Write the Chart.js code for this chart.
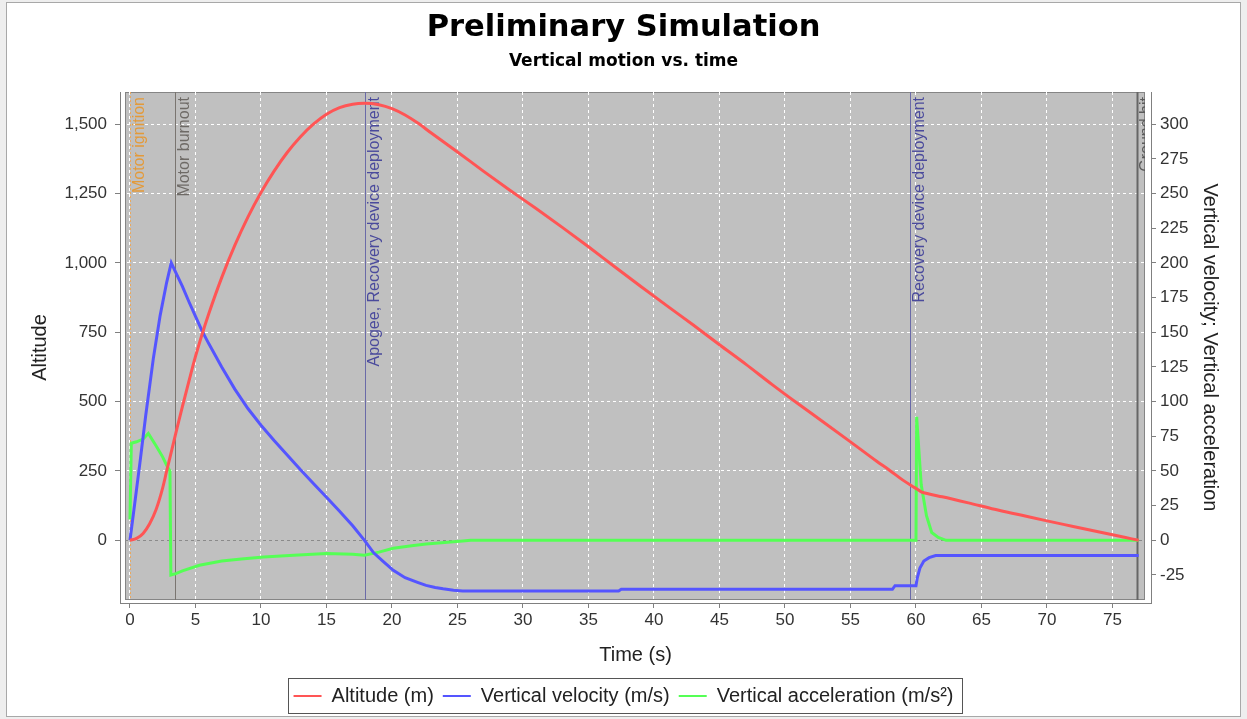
<!DOCTYPE html>
<html>
<head>
<meta charset="utf-8">
<title>Preliminary Simulation</title>
<script src="https://cdn.jsdelivr.net/npm/chart.js@4.4.1/dist/chart.umd.min.js"></script>
<style>
  body { margin: 0; background: #fff; }
  canvas { display: block; }
</style>
</head>
<body>
<canvas id="sim" width="1247" height="719"></canvas>
<script>
// data (time in s)
const altTime  = [0, 0.5, 1, 1.5, 2, 2.5, 2.8, 3.2, 3.6, 4, 4.5, 5, 5.5, 6, 7, 8, 9, 10, 11, 12, 13, 14, 15, 16, 17, 17.9, 19, 20, 21, 22, 23, 25, 27, 29, 31, 33, 35, 37, 39, 41, 43, 45, 47, 49, 51, 53, 55, 57, 58, 59, 59.9, 60.4, 61, 62, 64, 66, 68, 70, 72, 74, 76, 77];
const altitude = [0, 7, 25, 60, 112, 190, 250, 328, 406, 482, 574, 663, 742, 815, 947, 1063, 1165, 1254, 1331, 1398, 1454, 1500, 1536, 1560, 1572, 1575, 1570, 1556, 1533, 1503, 1468, 1400, 1330, 1262, 1196, 1128, 1058, 986, 915, 845, 776, 705, 635, 562, 492, 424, 355, 285, 252, 217, 190, 175, 167, 157, 135, 112, 91, 70, 50, 30, 10, 0];

const velTime  = [0, 0.3, 0.76, 1.2, 1.78, 2.3, 2.8, 3.15, 3.5, 4, 4.5, 5, 5.5, 6, 7, 8, 9, 10, 11, 12, 13, 14, 15, 16, 17, 17.9, 18.6, 19.3, 20.1, 21, 22, 22.6, 23.3, 23.9, 24.7, 25.4, 37.3, 37.5, 58.2, 58.4, 60.0, 60.1, 60.3, 60.6, 61, 61.5, 77];
const velocity = [0, 22, 56, 90, 131, 162, 186, 200, 193, 183, 172, 161.5, 151, 142, 125, 109, 95, 83, 72, 61.5, 51, 41, 31, 21, 10.5, 0, -9, -15, -21.6, -27, -30.5, -32.5, -34, -35, -36, -36.5, -36.5, -35.3, -35.3, -32.7, -32.7, -27, -20, -15, -12.5, -11, -11];

const accTime  = [0, 0.1, 0.5, 1, 1.4, 2, 2.5, 2.8, 3.05, 3.12, 3.5, 4, 5.3, 7, 8.5, 10.2, 12.5, 15, 17, 17.9, 19, 20.1, 21.5, 22.6, 24, 25.4, 26, 60, 60.05, 60.4, 60.8, 61.2, 61.7, 62.3, 77];
const accel    = [15, 70, 71, 73, 77, 68, 60, 54, 50, -25, -24, -22, -18, -15, -13.5, -12, -10.8, -9.5, -10, -10.7, -8.5, -5.8, -4, -2.7, -1.5, -0.5, 0, 0, 89, 40, 17.7, 5.6, 2, 0, 0];

// flight events
const eventTimes  = [0, 3.43, 17.92, 59.58, 76.9];
const eventNames  = ['Motor ignition', 'Motor burnout', 'Apogee, Recovery device deployment', 'Recovery device deployment', 'Ground hit'];
const eventColors = ['#e39a3a', '#6e6a66', '#4a4a9c', '#4a4a9c', '#5a5a5a'];
const eventLines  = ['#e8a860', '#7a7570', '#6a6aa8', '#6a6aa8', '#666666'];

const seriesNames  = ['Altitude (m)', 'Vertical velocity (m/s)', 'Vertical acceleration (m/s²)'];
const seriesColors = ['#ff5555', '#5555ff', '#55ff55'];

function pts(xs, ys) {
    return xs.map((x, i) => ({x: x, y: ys[i]}));
}

// gray plot box sits a few px inside the axis lines (like the original)
function plotRect(chart) {
    const a = chart.chartArea;
    return {l: a.left + 5, t: a.top, r: a.right - 6, b: a.bottom - 3};
}

const frame = {
    id: 'frame',
    beforeDraw(chart) {
        const ctx = chart.ctx;
        const r = plotRect(chart);
        ctx.save();
        ctx.fillStyle = '#eeeeee';
        ctx.fillRect(0, 0, chart.width, chart.height);
        ctx.fillStyle = '#ffffff';
        ctx.fillRect(7, 3, chart.width - 14, chart.height - 6);
        ctx.strokeStyle = '#a8a8a8';
        ctx.lineWidth = 1;
        ctx.strokeRect(6.5, 2.5, chart.width - 13, chart.height - 5);
        ctx.fillStyle = '#c0c0c0';
        ctx.fillRect(r.l, r.t, r.r - r.l, r.b - r.t);
        ctx.strokeStyle = '#858585';
        ctx.strokeRect(r.l + 0.5, r.t + 0.5, r.r - r.l - 1, r.b - r.t - 1);
        ctx.restore();
    },
    beforeDatasetsDraw(chart) {
        const ctx = chart.ctx;
        const r = plotRect(chart);
        ctx.save();
        ctx.beginPath();
        ctx.rect(r.l, r.t, r.r - r.l, r.b - r.t);
        ctx.clip();

        // zero line
        const y0 = Math.round(chart.scales.y.getPixelForValue(0)) + 0.5;
        ctx.strokeStyle = '#8a8a8a';
        ctx.lineWidth = 1;
        ctx.setLineDash([3, 3]);
        ctx.beginPath();
        ctx.moveTo(r.l, y0);
        ctx.lineTo(r.r, y0);
        ctx.stroke();

        ctx.font = '16px "Liberation Sans", Arial, sans-serif';
        for (var i = 0; i < eventTimes.length; i++) {
            const x = Math.round(chart.scales.x.getPixelForValue(eventTimes[i])) + 0.5;
            ctx.setLineDash(i == 0 ? [2, 2] : []);
            ctx.strokeStyle = eventLines[i];
            ctx.lineWidth = i == 4 ? 2 : 1;
            ctx.beginPath();
            ctx.moveTo(x, r.t);
            ctx.lineTo(x, r.b);
            ctx.stroke();

            ctx.save();
            ctx.translate(x + 1, r.t + 5);
            ctx.rotate(-Math.PI / 2);
            ctx.fillStyle = eventColors[i];
            ctx.textAlign = 'right';
            ctx.textBaseline = 'top';
            ctx.fillText(eventNames[i], 0, 0);
            ctx.restore();
        }
        ctx.restore();
    },
    afterDraw(chart) {
        // box round the legend
        const lg = chart.legend;
        if (!lg || !lg.legendHitBoxes.length) return;
        const hb = lg.legendHitBoxes;
        var minX = Infinity, maxX = -Infinity, top = hb[0].top, h = hb[0].height;
        hb.forEach(b => {
            minX = Math.min(minX, b.left);
            maxX = Math.max(maxX, b.left + b.width);
        });
        const ctx = chart.ctx;
        ctx.save();
        ctx.strokeStyle = '#555';
        ctx.lineWidth = 1;
        ctx.strokeRect(Math.round(minX - 6) + 0.5, Math.round(top - 8) + 0.5, Math.round(maxX - minX + 14), Math.round(h + 15));
        ctx.restore();
    }
};

const tickFont = {family: '"Liberation Sans", Arial, sans-serif', size: 17};
const titleFont = {family: '"Liberation Sans", Arial, sans-serif', size: 20};

new Chart(document.getElementById('sim'), {
    type: 'line',
    data: {
        datasets: [
            {label: seriesNames[0], data: pts(altTime, altitude), yAxisID: 'y', borderColor: seriesColors[0], backgroundColor: seriesColors[0], cubicInterpolationMode: 'monotone'},
            {label: seriesNames[1], data: pts(velTime, velocity), yAxisID: 'y2', borderColor: seriesColors[1], backgroundColor: seriesColors[1], tension: 0},
            {label: seriesNames[2], data: pts(accTime, accel), yAxisID: 'y2', borderColor: seriesColors[2], backgroundColor: seriesColors[2], tension: 0}
        ]
    },
    options: {
        responsive: false,
        animation: false,
        elements: {
            point: {radius: 0},
            line: {borderWidth: 3}
        },
        layout: {padding: {left: 8, right: 8, top: 0, bottom: 3}},
        plugins: {
            title: {
                display: true,
                text: 'Preliminary Simulation',
                color: '#000',
                font: {family: '"DejaVu Sans", Verdana, sans-serif', size: 30.5, weight: 'bold'},
                padding: {top: 10, bottom: 2}
            },
            subtitle: {
                display: true,
                text: 'Vertical motion vs. time',
                color: '#000',
                font: {family: '"DejaVu Sans", Verdana, sans-serif', size: 17, weight: 'bold'},
                padding: {top: 3, bottom: 20}
            },
            legend: {
                position: 'bottom',
                labels: {
                    color: '#222',
                    font: {family: '"Liberation Sans", Arial, sans-serif', size: 20},
                    boxWidth: 28,
                    boxHeight: 2,
                    padding: 9,
                    generateLabels: (chart) => chart.data.datasets.map((ds, i) => ({
                        text: ds.label,
                        fillStyle: ds.borderColor,
                        strokeStyle: ds.borderColor,
                        lineWidth: 0,
                        hidden: false,
                        datasetIndex: i,
                        fontColor: '#222'
                    }))
                }
            },
            tooltip: {enabled: false}
        },
        scales: {
            x: {
                type: 'linear',
                min: -0.763,
                max: 77.94,
                afterFit: (s) => { s.height = 74; },
                ticks: {stepSize: 5, includeBounds: false, font: tickFont, color: '#333', padding: 2, maxRotation: 0},
                grid: {color: '#ffffff', tickColor: '#808080', tickLength: 5, tickBorderDash: []},
                border: {display: true, color: '#808080', dash: [3, 3]},
                title: {display: true, text: 'Time (s)', font: titleFont, color: '#222', padding: {top: 0, bottom: 10}}
            },
            y: {
                position: 'left',
                min: -225.9,
                max: 1616,
                afterFit: (s) => { s.width = 112; },
                ticks: {stepSize: 250, includeBounds: false, font: tickFont, color: '#333', padding: 8},
                grid: {
                    color: (c) => c.tick && c.tick.value === 0 ? 'rgba(0,0,0,0)' : '#ffffff',
                    tickColor: '#808080', tickLength: 5, tickBorderDash: []
                },
                border: {display: true, color: '#808080', dash: [3, 3]},
                title: {display: true, text: 'Altitude', font: titleFont, color: '#222', padding: {top: 20, bottom: 0}}
            },
            y2: {
                position: 'right',
                min: -45.2,
                max: 323.2,
                afterFit: (s) => { s.width = 88; },
                ticks: {stepSize: 25, includeBounds: false, font: tickFont, color: '#333', padding: 4},
                grid: {drawOnChartArea: false, tickColor: '#808080', tickLength: 5},
                border: {display: true, color: '#808080'},
                title: {display: true, text: 'Vertical velocity; Vertical acceleration', font: titleFont, color: '#222', padding: {top: 17, bottom: 0}}
            }
        }
    },
    plugins: [frame]
});
</script>
</body>
</html>
